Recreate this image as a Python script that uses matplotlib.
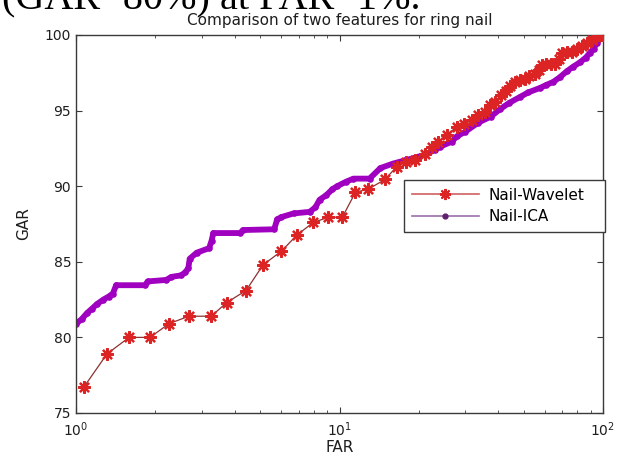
import numpy as np
import matplotlib
matplotlib.use("Agg")
import matplotlib.pyplot as plt
from matplotlib.lines import Line2D

# ROC points (FAR %, GAR %) for the two nail features
WAVELET_FAR = [1.07, 1.31, 1.59, 1.91, 2.25, 2.68, 3.26, 3.73, 4.42, 5.13,
               6.02, 6.92, 7.96, 9.08, 10.25, 11.5, 12.85, 14.9, 16.5, 17.9,
               19.3, 21.1, 22.4, 23.7, 25.5, 27.8, 29.7, 31.8, 33.5, 35.6,
               37.3, 39.0, 41.0, 43.0, 44.5, 46.5, 48.5, 50.5, 52.5, 55.0,
               57.0, 58.7, 61.0, 63.5, 66.0, 68.0, 70.0, 73.0, 76.5, 80.0,
               83.5, 87.0, 90.5, 94.0, 97.0, 100.0]
WAVELET_GAR = [76.7, 78.9, 80.0, 80.0, 80.9, 81.4, 81.4, 82.3, 83.1, 84.8,
               85.7, 86.8, 87.6, 87.95, 87.95, 89.6, 89.8, 90.45, 91.3, 91.6,
               91.7, 92.15, 92.6, 92.95, 93.4, 93.9, 94.1, 94.4, 94.7, 94.9,
               95.4, 95.6, 96.0, 96.3, 96.6, 96.9, 97.0, 97.1, 97.3, 97.4,
               97.7, 98.0, 98.1, 98.1, 98.1, 98.4, 98.8, 98.9, 98.9, 99.1,
               99.3, 99.5, 99.7, 99.9, 100.0, 100.0]

ICA_FAR = [1.0, 1.05, 1.1, 1.15, 1.2, 1.27, 1.33, 1.38, 1.42, 1.83,
           1.87, 2.2, 2.3, 2.5, 2.6, 2.67, 2.7, 2.87, 3.2, 3.27,
           3.32, 4.2, 4.3, 5.65, 5.8, 6.0, 6.7, 7.7, 8.1, 8.4,
           8.9, 9.4, 9.8, 10.6, 11.3, 13.0, 14.3, 16.0, 17.7, 19.9,
           21.3, 23.0, 24.0, 26.7, 27.9, 30.0, 33.6, 37.5, 40.7, 44.0,
           48.4, 52.0, 57.7, 61.0, 64.8, 68.5, 72.9, 77.0, 81.9, 86.0,
           89.0, 92.1, 95.0, 97.5, 100.0]
ICA_GAR = [80.9, 81.2, 81.6, 81.9, 82.2, 82.5, 82.7, 82.9, 83.45, 83.45,
           83.7, 83.8, 84.0, 84.1, 84.3, 84.6, 85.2, 85.6, 85.9, 86.4,
           86.9, 86.9, 87.1, 87.15, 87.8, 87.95, 88.2, 88.3, 88.6, 89.1,
           89.4, 89.8, 90.0, 90.3, 90.5, 90.5, 91.2, 91.5, 91.7, 91.95,
           92.1, 92.4, 92.6, 92.95, 93.3, 93.6, 94.2, 94.6, 95.1, 95.5,
           95.9, 96.2, 96.5, 96.7, 96.9, 97.2, 97.6, 97.9, 98.2, 98.5,
           98.8, 99.1, 99.5, 99.9, 100.0]

WAV_LINE = "#8e3030"
WAV_MARK = "#dc2424"
ICA_COL = "#a000c0"
AX_COL = "#3a3a3a"
TXT_COL = "#1e1e1e"
ASTERISK = (8, 2, 0)

plt.rcParams["font.family"] = ["DejaVu Sans"]

fig = plt.figure(figsize=(6.21, 4.58), dpi=100)
ax = fig.add_axes([0.1224, 0.0983, 0.8486, 0.8253])

ax.plot(ICA_FAR, ICA_GAR, color=ICA_COL, lw=4.2, marker=".", ms=7.5,
        solid_joinstyle="round", zorder=2)
ax.plot(WAVELET_FAR, WAVELET_GAR, color=WAV_LINE, lw=0.9, marker=ASTERISK,
        ms=9, mec=WAV_MARK, mew=1.6, zorder=3)

ax.set_xscale("log")
ax.set_xlim(1, 100)
ax.set_ylim(75, 100)
ax.set_yticks([75, 80, 85, 90, 95, 100])

for s in ax.spines.values():
    s.set_color(AX_COL)
    s.set_linewidth(1.0)
ax.tick_params(which="both", direction="in", top=True, right=True,
               color=AX_COL, labelcolor=TXT_COL, labelsize=10)
ax.tick_params(which="major", length=4)
ax.tick_params(which="minor", length=2.5)
ax.tick_params(axis="x", pad=5)

ax.set_xlabel("FAR", fontsize=11, color=TXT_COL, labelpad=1)
ax.set_ylabel("GAR", fontsize=11, color=TXT_COL, labelpad=10)
ax.set_title("Comparison of two features for ring nail", fontsize=11,
             color=TXT_COL, pad=7)

handles = [
    Line2D([], [], color="#d06060", lw=1.2, marker=ASTERISK, ms=8,
           mec=WAV_MARK, mew=1.4),
    Line2D([], [], color="#9a70a8", lw=1.2, marker=".", ms=7,
           mfc="#602070", mec="#602070"),
]
leg = ax.legend(handles, ["Nail-Wavelet", "Nail-ICA"], loc="upper left",
                bbox_to_anchor=(0.6224, 0.4815, 0.3814, 0.135),
                mode="expand", borderaxespad=0,
                fontsize=11, handlelength=4.4, handletextpad=0.6,
                labelspacing=0.45, borderpad=0.5, fancybox=False,
                framealpha=1, edgecolor=AX_COL)
leg.get_frame().set_linewidth(1.0)

# running text of the page above the figure, cut at the top edge
fig.text(0.003, 1 - 9 / 458, "(GAR=80%) at FAR=1%.", fontsize=29,
         family="Liberation Serif", va="baseline", ha="left", color="black")

fig.savefig("out.png", dpi=100)
